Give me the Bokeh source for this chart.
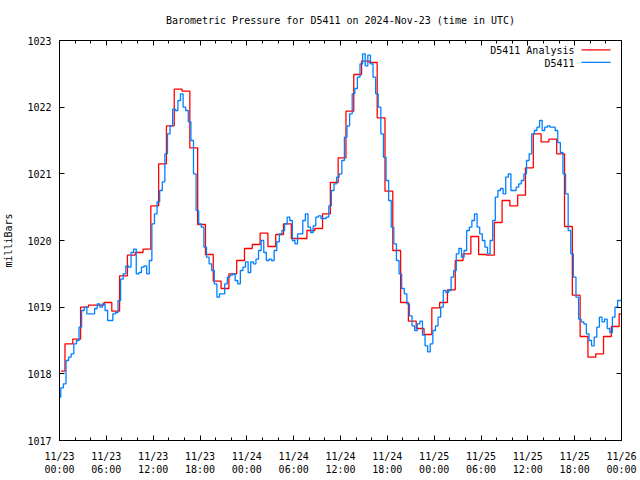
from bokeh.plotting import figure
from bokeh.models import Range1d, LinearAxis, FixedTicker, Label, BoxAnnotation
from bokeh.embed import file_html
from bokeh.resources import INLINE

FONT = "DejaVu Sans Mono"

title_text = "Barometric Pressure for D5411 on 2024-Nov-23 (time in UTC)"
y_label = "milliBars"
series_names = ["D5411 Analysis", "D5411"]

# x axis: hours since 2024-11-23 00:00 UTC
tick_hours = [0, 6, 12, 18, 24, 30, 36, 42, 48, 54, 60, 66, 72]
tick_labels = ["11/23\n00:00", "11/23\n06:00", "11/23\n12:00", "11/23\n18:00",
               "11/24\n00:00", "11/24\n06:00", "11/24\n12:00", "11/24\n18:00",
               "11/25\n00:00", "11/25\n06:00", "11/25\n12:00", "11/25\n18:00",
               "11/26\n00:00"]
minor_tick_hours = list(range(0, 73, 2))
y_ticks = [1017, 1018, 1019, 1020, 1021, 1022, 1023]

# hourly analysis (mbar); each value valid from HH:12 (hours since start)
analysis_hours = [0.2, 1.2, 2.2, 3.2, 4.2, 5.2, 6.2, 7.2, 8.2, 9.2, 10.2, 11.2,
                  12.2, 13.2, 14.2, 15.2, 16.2, 17.2, 18.2, 19.2, 20.2, 21.2, 22.2, 23.2,
                  24.2, 25.2, 26.2, 27.2, 28.2, 29.2, 30.2, 31.2, 32.2, 33.2, 34.2, 35.2,
                  36.2, 37.2, 38.2, 39.2, 40.2, 41.2, 42.2, 43.2, 44.2, 45.2, 46.2, 47.2,
                  48.2, 49.2, 50.2, 51.2, 52.2, 53.2, 54.2, 55.2, 56.2, 57.2, 58.2, 59.2,
                  60.2, 61.2, 62.2, 63.2, 64.2, 65.2, 66.2, 67.2, 68.2, 69.2, 70.2, 71.2,
                  72.2]
analysis_mbar = [
    1018.04, 1018.45, 1018.52, 1019.00, 1019.03, 1019.03, 1019.07, 1018.94,
    1019.47, 1019.78, 1019.82, 1019.87, 1020.52, 1021.15, 1021.72, 1022.27,
    1022.24, 1021.39, 1020.24, 1019.79, 1019.39, 1019.28, 1019.50, 1019.70,
    1019.88, 1019.94, 1020.11, 1019.91, 1020.09, 1020.25, 1020.03, 1020.03,
    1020.15, 1020.18, 1020.40, 1020.87, 1021.24, 1021.94, 1022.49, 1022.69,
    1022.67, 1021.84, 1020.74, 1019.85, 1019.07, 1018.79, 1018.68, 1018.59,
    1018.99, 1019.07, 1019.26, 1019.70, 1019.80, 1020.06, 1019.79, 1019.78,
    1020.27, 1020.60, 1020.52, 1020.68, 1021.09, 1021.60, 1021.48, 1021.52,
    1021.30, 1020.21, 1019.18, 1018.56, 1018.25, 1018.30, 1018.56, 1018.71,
    1018.90,
]

# station observations (mbar), every 20 minutes from 00:00
obs_interval_min = 20
obs_mbar = [
    1017.65, 1017.79, 1017.85, 1018.20, 1018.25, 1018.30, 1018.45, 1018.50, 1018.70,
    1018.95, 1019.00, 1018.90, 1018.90, 1018.90, 1018.98, 1019.05, 1019.00, 1019.05,
    1018.95, 1018.80, 1018.80, 1018.90, 1018.92, 1019.10, 1019.42, 1019.50, 1019.62,
    1019.60, 1019.82, 1019.87, 1019.50, 1019.52, 1019.60, 1019.62, 1019.50, 1019.70,
    1020.25, 1020.40, 1020.58, 1020.75, 1020.88, 1021.30, 1021.60, 1021.72, 1021.97,
    1021.95, 1022.10, 1022.20, 1022.00, 1021.95, 1021.78, 1021.50, 1021.00, 1020.45,
    1020.25, 1020.20, 1019.90, 1019.75, 1019.65, 1019.55, 1019.35, 1019.15, 1019.20,
    1019.20, 1019.35, 1019.45, 1019.48, 1019.50, 1019.40, 1019.35, 1019.55, 1019.60,
    1019.68, 1019.52, 1019.68, 1019.65, 1019.72, 1019.85, 1020.00, 1019.82, 1019.70,
    1019.72, 1019.70, 1019.85, 1019.98, 1020.10, 1020.15, 1020.25, 1020.35, 1020.30,
    1020.00, 1019.95, 1020.10, 1020.10, 1020.30, 1020.40, 1020.20, 1020.12, 1020.22,
    1020.35, 1020.37, 1020.33, 1020.33, 1020.35, 1020.52, 1020.75, 1020.85, 1020.95,
    1021.00, 1021.20, 1021.55, 1021.72, 1021.90, 1022.20, 1022.28, 1022.45, 1022.65,
    1022.80, 1022.62, 1022.78, 1022.65, 1022.45, 1022.20, 1022.00, 1021.60, 1021.25,
    1020.90, 1020.60, 1020.20, 1019.95, 1019.70, 1019.50, 1019.28, 1019.20, 1019.05,
    1018.87, 1018.72, 1018.65, 1018.75, 1018.79, 1018.58, 1018.42, 1018.33, 1018.45,
    1018.65, 1018.72, 1018.85, 1019.00, 1019.25, 1019.22, 1019.25, 1019.45, 1019.55,
    1019.80, 1019.88, 1019.75, 1019.85, 1020.15, 1020.20, 1020.30, 1020.40, 1020.20,
    1020.10, 1020.00, 1019.90, 1019.80, 1020.00, 1020.30, 1020.65, 1020.75, 1020.78,
    1020.70, 1020.95, 1021.00, 1020.75, 1020.75, 1020.80, 1020.85, 1020.90, 1021.00,
    1021.20, 1021.30, 1021.60, 1021.65, 1021.70, 1021.80, 1021.65, 1021.70, 1021.72,
    1021.70, 1021.70, 1021.65, 1021.47, 1021.32, 1021.00, 1020.70, 1020.15, 1019.80,
    1019.45, 1019.15, 1018.82, 1018.78, 1018.75, 1018.60, 1018.50, 1018.42, 1018.55,
    1018.70, 1018.85, 1018.78, 1018.82, 1018.68, 1018.62, 1018.85, 1019.00, 1019.10,
    1019.10,
]
obs_hours = [i * obs_interval_min / 60.0 for i in range(len(obs_mbar))]

RED = "#ff0000"
BLUE = "#0080ff"

W, H = 640, 480
p = figure(width=W, height=H, output_backend="svg", toolbar_location=None,
           x_range=Range1d(0, 72), y_range=Range1d(1017, 1023),
           min_border_left=58, min_border_right=19, min_border_top=40,
           min_border_bottom=40)
p.background_fill_color = "white"
p.border_fill_color = "white"
p.outline_line_color = "black"
p.outline_line_width = 1
p.xgrid.visible = False
p.ygrid.visible = False


def style_axis(ax, show_labels=True):
    ax.major_tick_in = 5
    ax.major_tick_out = 0
    ax.minor_tick_in = 3
    ax.minor_tick_out = 0
    ax.axis_line_color = "black"
    ax.major_tick_line_color = "black"
    ax.minor_tick_line_color = "black"
    ax.major_label_text_font = FONT
    ax.major_label_text_color = "black"
    if show_labels:
        ax.major_label_text_font_size = "10px"
    else:
        ax.major_label_text_font_size = "0px"
        ax.major_label_text_alpha = 0
        ax.major_label_standoff = 0


xax = p.xaxis[0]
xax.ticker = FixedTicker(ticks=tick_hours, minor_ticks=minor_tick_hours)
xax.major_label_overrides = {h: lab for h, lab in zip(tick_hours, tick_labels)}
style_axis(xax)
xax.major_label_standoff = 10

yax = p.yaxis[0]
yax.ticker = FixedTicker(ticks=y_ticks, minor_ticks=[])
style_axis(yax)
yax.major_label_standoff = 8
yax.axis_label = y_label
yax.axis_label_text_font = FONT
yax.axis_label_text_font_size = "10px"
yax.axis_label_text_font_style = "normal"
yax.axis_label_text_color = "black"
yax.axis_label_standoff = 10

# mirrored top axis; its label carries the chart title, centred over the frame
top_ax = LinearAxis(ticker=FixedTicker(ticks=tick_hours, minor_ticks=minor_tick_hours))
style_axis(top_ax, show_labels=False)
top_ax.axis_label = title_text
top_ax.axis_label_text_font = FONT
top_ax.axis_label_text_font_size = "10px"
top_ax.axis_label_text_font_style = "normal"
top_ax.axis_label_text_color = "black"
top_ax.axis_label_standoff = 15
p.add_layout(top_ax, "above")

right_ax = LinearAxis(ticker=FixedTicker(ticks=y_ticks, minor_ticks=[]))
style_axis(right_ax, show_labels=False)
p.add_layout(right_ax, "right")

p.step(analysis_hours, analysis_mbar, mode="center", line_color=RED, line_width=1.3)
p.step(obs_hours, obs_mbar, mode="center", line_color=BLUE, line_width=1.3)

# gnuplot-style key (canvas pixels from top-left): label text, then sample line
key_rows = [(series_names[0], RED, 50), (series_names[1], BLUE, 62.5)]
for name, col, ypos in key_rows:
    p.add_layout(Label(x=574, y=ypos, x_units="canvas", y_units="canvas", text=name,
                       text_font=FONT, text_font_size="10px", text_align="right",
                       text_baseline="middle", text_color="black"))
    p.add_layout(BoxAnnotation(left=581, right=610, top=ypos - 1.3, bottom=ypos,
                               left_units="canvas", right_units="canvas",
                               bottom_units="canvas", top_units="canvas",
                               fill_color=col, fill_alpha=1.0, line_color=None))

open("out.html", "w").write(file_html(p, INLINE))
